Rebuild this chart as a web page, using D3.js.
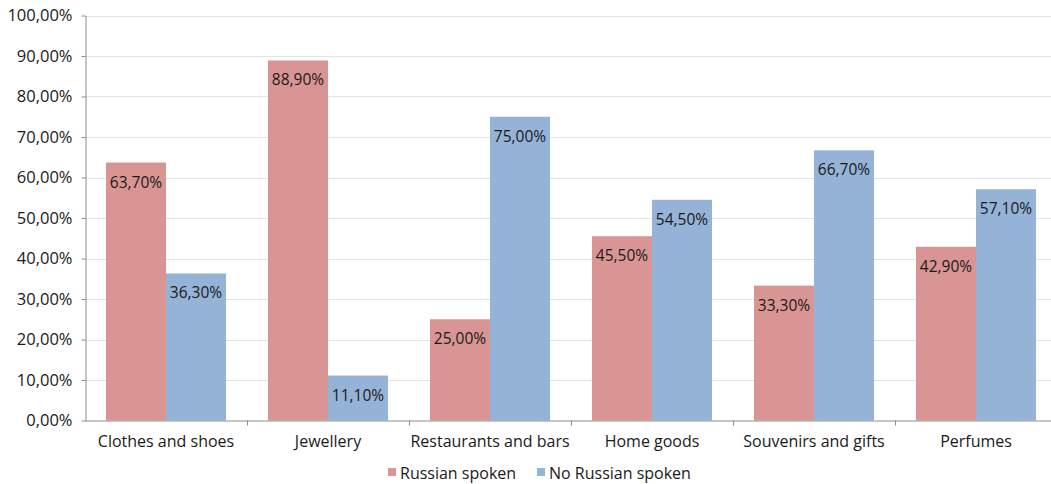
<!DOCTYPE html>
<html lang="en">
<head>
    <meta charset="UTF-8">
    <script src="https://d3js.org/d3.v7.min.js"></script>
    <title>Russian spoken</title>
    <style>
        body { margin: 0; background: #fff; }
        text { font-family: 'Open Sans', sans-serif; fill: #1a1a1a; }
        .grid line { stroke: #e3e3e3; }
        .axis path, .axis line { stroke: #8c8c8c; }
    </style>
</head>
<body>
<svg height="484" width="1051"></svg>
<script>
    const categories = ["Clothes and shoes", "Jewellery", "Restaurants and bars", "Home goods", "Souvenirs and gifts", "Perfumes"];
    const russian = [63.7, 88.9, 25.0, 45.5, 33.3, 42.9];
    const noRussian = [36.3, 11.1, 75.0, 54.5, 66.7, 57.1];
    const series = ["Russian spoken", "No Russian spoken"];
    const yTicks = [0, 10, 20, 30, 40, 50, 60, 70, 80, 90, 100];

    const colors = ["#d99594", "#95b3d7"];
    const svg = d3.select("svg");
    const left = 85, bandW = 162;

    const x = d3.scaleBand().domain(categories)
            .range([left, left + bandW * categories.length]);
    const xs = d3.scaleBand().domain([0, 1]).range([21, bandW - 21]);
    const y = d3.scaleLinear().domain([0, 100]).range([420.5, 15.5]);

    const fmt = v => v.toFixed(2).replace(".", ",") + "%";

    // gridlines
    svg.append("g").attr("class", "grid")
            .selectAll("line").data(yTicks.slice(1)).enter().append("line")
            .attr("x1", left).attr("x2", 1051)
            .attr("y1", d => Math.round(y(d)) + 0.5).attr("y2", d => Math.round(y(d)) + 0.5);

    const data = [];
    categories.forEach((c, i) => {
        data.push({c: c, s: 0, v: russian[i]});
        data.push({c: c, s: 1, v: noRussian[i]});
    });

    svg.append("g").selectAll("rect").data(data).enter().append("rect")
            .attr("x", d => x(d.c) + xs(d.s))
            .attr("width", xs.bandwidth())
            .attr("y", d => y(d.v))
            .attr("height", d => y(0) - y(d.v))
            .style("fill", d => colors[d.s]);

    svg.append("g").selectAll("text").data(data).enter().append("text")
            .attr("x", d => x(d.c) + xs(d.s) + xs.bandwidth() / 2)
            .attr("y", d => y(d.v) + 25)
            .attr("text-anchor", "middle")
            .style("font-size", "15.5px")
            .text(d => fmt(d.v));

    // y axis
    const yAxis = d3.axisLeft(y).tickValues(yTicks).tickSize(4).tickSizeOuter(0)
            .tickFormat(d => fmt(d));
    const gy = svg.append("g").attr("class", "axis")
            .attr("transform", `translate(${left + 0.5},0)`).call(yAxis);
    gy.selectAll("text").style("font-size", "16.5px").attr("x", -13);

    // x axis
    const xAxis = d3.axisBottom(x).tickSize(0).tickSizeOuter(0);
    const gx = svg.append("g").attr("class", "axis")
            .attr("transform", `translate(0,${y(0)})`).call(xAxis);
    gx.select(".domain").attr("d", `M${left},0.5H1051`);
    gx.selectAll("text").style("font-size", "16px").attr("y", 26.5).attr("dy", 0);
    gx.selectAll(".sep").data(categories.slice(1)).enter().append("line")
            .attr("x1", d => x(d) + 0.5).attr("x2", d => x(d) + 0.5)
            .attr("y1", 0).attr("y2", 5).attr("stroke", "#8c8c8c");

    // legend
    const legendX = [388, 537];
    const lg = svg.append("g").selectAll("g").data(series).enter().append("g")
            .attr("transform", (d, i) => `translate(${legendX[i]},468)`);
    lg.append("rect").attr("width", 8).attr("height", 8)
            .style("fill", (d, i) => colors[i]);
    lg.append("text").attr("x", 12).attr("y", 11)
            .style("font-size", "16px")
            .text(d => d);
</script>
</body>
</html>
